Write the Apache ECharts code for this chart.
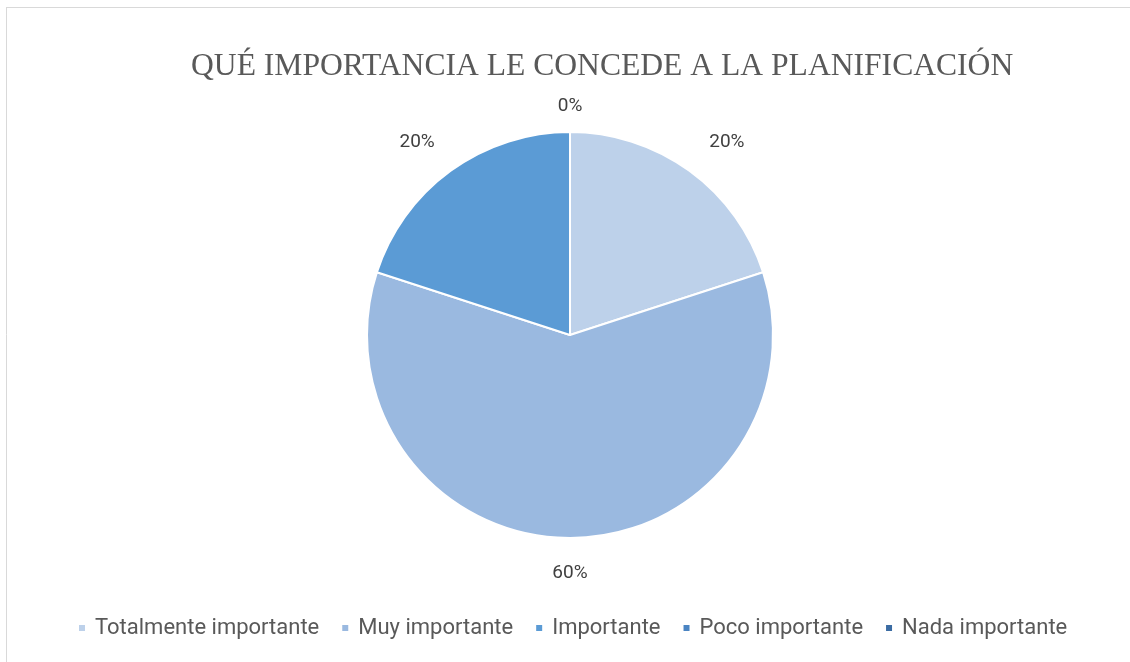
<!DOCTYPE html>
<html>
<head>
<meta charset="utf-8">
<script src="https://cdn.jsdelivr.net/npm/echarts@6/dist/echarts.min.js"></script>
<style>
  html, body { margin: 0; padding: 0; background: #fff; }
  #chart { width: 1130px; height: 662px; }
</style>
</head>
<body>
<div id="chart"></div>
<script>
var categories = ['Totalmente importante', 'Muy importante', 'Importante', 'Poco importante', 'Nada importante'];
var percents = [20, 60, 20, 0, null];
var colors = ['#BDD1EA', '#9AB9E0', '#5B9BD5', '#4A84C2', '#3B6CA3'];

var myChart = echarts.init(document.getElementById('chart'));

var pieData = categories.map(function (name, i) {
  return { name: name, value: percents[i], itemStyle: { color: colors[i] } };
});
// same slices, transparent, only to place the % labels further out
// (offset nudges a few labels like Excel's best-fit placement)
var labelShift = [[17, 0], [0, 0], [-13, 0], [0, 9], [0, 0]];
var labelData = categories.map(function (name, i) {
  return { name: name, value: percents[i], label: { offset: labelShift[i] } };
});

var option = {
  animation: false,
  title: {
    text: 'QUÉ IMPORTANCIA LE CONCEDE A LA PLANIFICACIÓN',
    left: 186,
    top: 46,
    textStyle: {
      fontFamily: 'Liberation Serif',
      fontWeight: 'normal',
      fontSize: 31.6,
      color: '#595959'
    }
  },
  legend: {
    bottom: 18,
    left: 72,
    icon: 'rect',
    itemWidth: 8,
    itemHeight: 8,
    itemGap: 21,
    textStyle: {
      fontFamily: 'Roboto',
      fontSize: 22,
      color: '#595959',
      padding: [0, 0, 0, 4]
    },
    data: categories
  },
  graphic: [
    { type: 'line', shape: { x1: 6.5, y1: 7, x2: 6.5, y2: 662 }, style: { stroke: '#d9d9d9', lineWidth: 1 } },
    { type: 'line', shape: { x1: 6, y1: 7.5, x2: 1130, y2: 7.5 }, style: { stroke: '#d9d9d9', lineWidth: 1 } }
  ],
  series: [{
    type: 'pie',
    center: [570, 335],
    radius: 203,
    startAngle: 90,
    clockwise: true,
    itemStyle: { borderColor: '#ffffff', borderWidth: 2 },
    label: { show: false },
    labelLine: { show: false },
    data: pieData
  }, {
    type: 'pie',
    center: [570, 335],
    radius: [0, 470],
    startAngle: 90,
    clockwise: true,
    silent: true,
    itemStyle: { color: 'transparent' },
    label: {
      show: true,
      position: 'inner',
      formatter: function (p) { return p.value == null ? '' : p.value + '%'; },
      fontFamily: 'Roboto',
      fontSize: 19,
      color: '#404040'
    },
    labelLine: { show: false },
    data: labelData
  }]
};

myChart.setOption(option);
</script>
</body>
</html>
